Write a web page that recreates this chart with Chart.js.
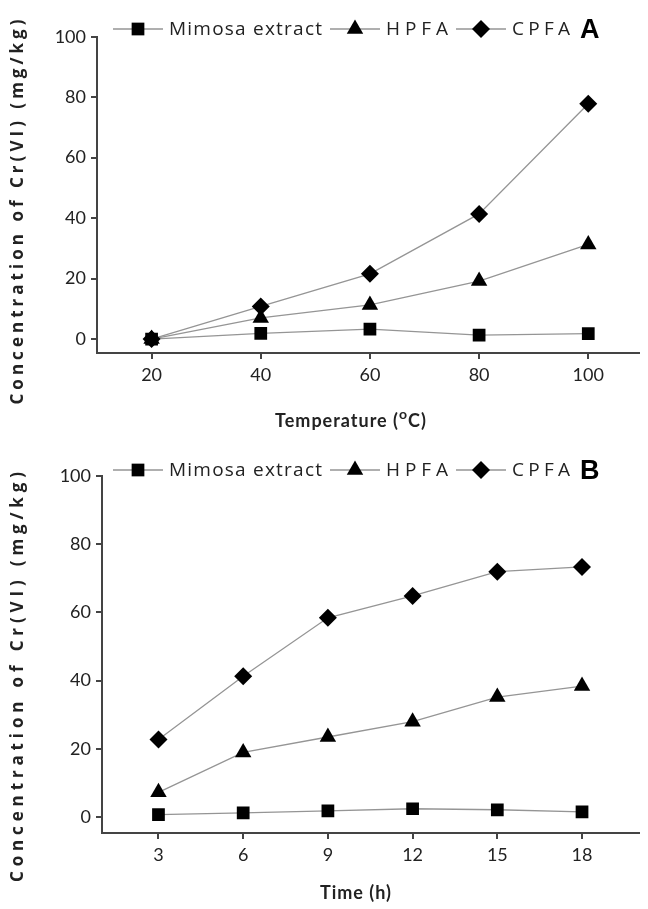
<!DOCTYPE html>
<html>
<head>
<meta charset="utf-8">
<script src="https://cdn.jsdelivr.net/npm/chart.js@4/dist/chart.umd.min.js"></script>
<style>
  html, body { margin: 0; padding: 0; background: #fff; }
  .panel { position: absolute; left: 0; width: 648px; }
  #pA { top: 0; height: 450px; }
  #pB { top: 450px; height: 459px; }
</style>
</head>
<body>
<div class="panel" id="pA"><canvas id="chartA"></canvas></div>
<div class="panel" id="pB"><canvas id="chartB"></canvas></div>
<script>
// data
const seriesNames = ['Mimosa extract', 'HPFA', 'CPFA'];
const temperatures = [20, 40, 60, 80, 100];
const mimosaTemp = [0, 1.9, 3.3, 1.3, 1.8];
const hpfaTemp = [0, 7, 11.3, 19.2, 31.3];
const cpfaTemp = [0, 10.8, 21.6, 41.4, 77.8];

const times = [3, 6, 9, 12, 15, 18];
const mimosaTime = [0.8, 1.3, 1.9, 2.5, 2.2, 1.6];
const hpfaTime = [7.3, 19, 23.5, 28, 35.2, 38.4];
const cpfaTime = [22.8, 41.3, 58.4, 64.8, 71.9, 73.3];

const yTicks = [0, 20, 40, 60, 80, 100];
const yTitle = 'Concentration of Cr(VI) (mg/kg)';

const markers = ['rect', 'triangle', 'rectRot'];
const lineGray = '#959595';
const axisGray = '#444';
const textCol = '#222';

function drawMarker(ctx, style, r, x, y) {
  ctx.beginPath();
  if (style === 'rect') {
    const s = r * Math.SQRT1_2;
    ctx.rect(x - s, y - s, 2 * s, 2 * s);
  } else if (style === 'triangle') {
    for (let k = 0; k < 3; k++) {
      const a = k * 2 * Math.PI / 3;
      const px = x + Math.sin(a) * r, py = y - Math.cos(a) * r;
      k === 0 ? ctx.moveTo(px, py) : ctx.lineTo(px, py);
    }
    ctx.closePath();
  } else {
    ctx.moveTo(x, y - r); ctx.lineTo(x + r, y); ctx.lineTo(x, y + r); ctx.lineTo(x - r, y);
    ctx.closePath();
  }
  ctx.fill();
}

// draw text stretched to a given width with letter spacing
function fitText(ctx, txt, x, y, width) {
  const base = ctx.measureText(txt).width;
  const sp = Math.max(0, (width - base) / (txt.length - 1));
  ctx.letterSpacing = sp + 'px';
  ctx.fillText(txt, x, y);
  ctx.letterSpacing = '0px';
}

// legend, panel letter, axis titles
const decor = {
  id: 'decor',
  afterDraw(chart, args, o) {
    const ctx = chart.ctx;
    ctx.save();
    ctx.textBaseline = 'middle';
    ctx.textAlign = 'left';
    const y = o.legendY;
    let x = o.legendX;
    const widths = [153, 62, 58];
    seriesNames.forEach((name, i) => {
      ctx.strokeStyle = lineGray;
      ctx.lineWidth = 1.3;
      ctx.beginPath(); ctx.moveTo(x, y); ctx.lineTo(x + 50, y); ctx.stroke();
      ctx.fillStyle = '#000';
      drawMarker(ctx, markers[i], i === 1 ? 9.5 : 9, x + 25, y);
      x += 56;
      ctx.fillStyle = textCol;
      ctx.font = '19px "Open Sans"';
      fitText(ctx, name, x, y + 1, widths[i]);
      x += widths[i] + 8;
    });
    ctx.fillStyle = '#000';
    ctx.font = 'bold 27px "Liberation Sans"';
    ctx.fillText(o.letter, x + 2, y + 2);

    // x title
    ctx.fillStyle = textCol;
    ctx.letterSpacing = '1px';
    const parts = o.xTitle;
    let tw = 0;
    parts.forEach(p => {
      ctx.font = p.sup ? 'bold 14px Lato' : 'bold 18px Lato';
      tw += ctx.measureText(p.t).width;
    });
    let tx = o.xTitleCX - tw / 2;
    parts.forEach(p => {
      ctx.font = p.sup ? 'bold 14px Lato' : 'bold 18px Lato';
      ctx.fillText(p.t, tx, o.xTitleY + (p.sup ? -7 : 0));
      tx += ctx.measureText(p.t).width;
    });
    ctx.letterSpacing = '0px';

    // y title
    ctx.translate(18, o.titleCY);
    ctx.rotate(-Math.PI / 2);
    ctx.font = 'bold 17px "Open Sans"';
    ctx.textAlign = 'left';
    fitText(ctx, yTitle, -o.titleLen / 2, 0, o.titleLen);
    ctx.restore();
  }
};

function makeChart(id, xs, series, cfg) {
  // datasets listed backwards so the mimosa markers sit on top, as in the figure
  const sets = series.map((vals, i) => ({
    label: seriesNames[i],
    data: xs.map((v, k) => ({ x: v, y: vals[k] })),
    borderColor: lineGray,
    borderWidth: 1.3,
    pointStyle: markers[i],
    pointRadius: i === 1 ? 9.5 : 9,
    pointBackgroundColor: '#000',
    pointBorderColor: '#000',
    pointBorderWidth: 0,
    tension: 0
  })).reverse();

  return new Chart(document.getElementById(id), {
    type: 'line',
    data: { datasets: sets },
    options: {
      responsive: true,
      maintainAspectRatio: false,
      animation: false,
      events: [],
      layout: { padding: { top: cfg.top, right: cfg.right, left: 0, bottom: 0 } },
      plugins: {
        legend: { display: false },
        tooltip: { enabled: false },
        decor: cfg.decor
      },
      scales: {
        x: {
          type: 'linear',
          min: cfg.xMin, max: cfg.xMax,
          afterBuildTicks: s => { s.ticks = xs.map(v => ({ value: v })); },
          afterFit: s => { s.height = cfg.xHeight; },
          border: { color: axisGray, width: 2 },
          grid: { drawOnChartArea: false, drawTicks: true, tickLength: 6, color: axisGray, lineWidth: 2 },
          ticks: { color: textCol, padding: 5, font: { family: 'Lato', size: 18 }, maxRotation: 0 }
        },
        y: {
          min: -4.6, max: 100,
          afterBuildTicks: s => { s.ticks = yTicks.map(v => ({ value: v })); },
          afterFit: s => { s.width = cfg.yWidth; },
          border: { color: axisGray, width: 2 },
          grid: { drawOnChartArea: false, drawTicks: true, tickLength: 6, color: axisGray, lineWidth: 2 },
          ticks: { color: textCol, padding: 5, font: { family: 'Lato', size: 18 } }
        }
      }
    },
    plugins: [decor]
  });
}

makeChart('chartA', temperatures, [mimosaTemp, hpfaTemp, cpfaTemp], {
  top: 36.7, right: 2, xMin: 10, xMax: 109.2, xHeight: 97, yWidth: 97,
  decor: {
    legendX: 113, legendY: 29, letter: 'A', titleCY: 212, titleLen: 385,
    xTitle: [{ t: 'Temperature (' }, { t: 'o', sup: true }, { t: 'C)' }],
    xTitleCX: 351, xTitleY: 421
  }
});

makeChart('chartB', times, [mimosaTime, hpfaTime, cpfaTime], {
  top: 25.7, right: 1, xMin: 1, xMax: 20, xHeight: 76, yWidth: 102,
  decor: {
    legendX: 113, legendY: 20, letter: 'B', titleCY: 227, titleLen: 410,
    xTitle: [{ t: 'Time (h)' }],
    xTitleCX: 356, xTitleY: 443
  }
});
</script>
</body>
</html>
